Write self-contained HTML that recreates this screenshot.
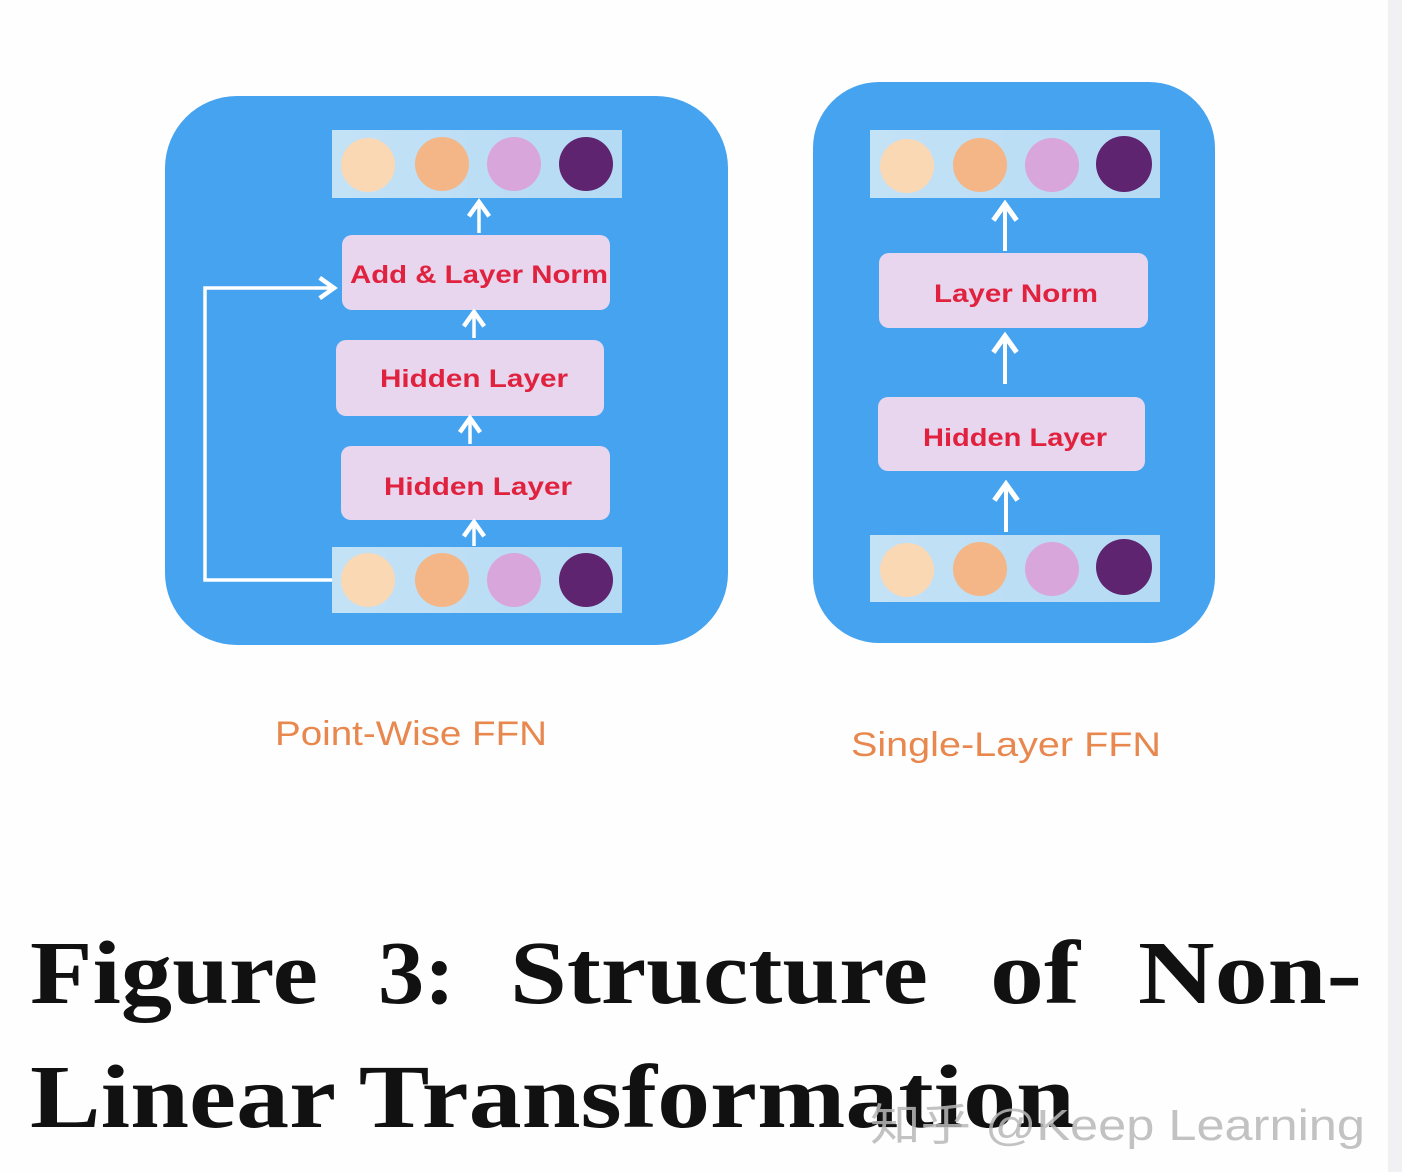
<!DOCTYPE html>
<html><head><meta charset="utf-8"><style>
html,body{margin:0;padding:0;background:#fff;}
svg{display:block}
</style></head><body>
<svg width="1402" height="1172" viewBox="0 0 1402 1172" xmlns="http://www.w3.org/2000/svg">
<rect x="0" y="0" width="1402" height="1172" fill="#fefefe"/>
<rect x="1388" y="0" width="14" height="1172" fill="#f1f1f3"/>
<defs>
<linearGradient id="vg" x1="0" x2="1" y1="0" y2="0"><stop offset="0" stop-color="#c4e2f6"/><stop offset="1" stop-color="#b4daf4"/></linearGradient>
<marker id="ah" viewBox="0 0 12 12" refX="9" refY="6" markerWidth="7" markerHeight="7" orient="auto"><path d="M2,1 L9,6 L2,11" fill="none" stroke="#fff" stroke-width="2.2"/></marker>
</defs>
<rect x="165" y="96" width="563" height="549" rx="72" fill="#45a3f0"/>
<rect x="332" y="130" width="290" height="68" fill="url(#vg)"/>
<circle cx="368" cy="165" r="27" fill="#fbd8b4"/><circle cx="442" cy="164" r="27" fill="#f4b686"/><circle cx="514" cy="164" r="27" fill="#d8a6da"/><circle cx="586" cy="164" r="27" fill="#5e2470"/>
<rect x="332" y="547" width="290" height="66" fill="url(#vg)"/>
<circle cx="368" cy="580" r="27" fill="#fbd8b4"/><circle cx="442" cy="580" r="27" fill="#f4b686"/><circle cx="514" cy="580" r="27" fill="#d8a6da"/><circle cx="586" cy="580" r="27" fill="#5e2470"/>
<rect x="342" y="235" width="268" height="75" rx="10" fill="#e8d5ee"/>
<rect x="336" y="340" width="268" height="76" rx="10" fill="#e8d5ee"/>
<rect x="341" y="446" width="269" height="74" rx="10" fill="#e8d5ee"/>
<g font-family="Liberation Sans, sans-serif" font-weight="bold" font-size="25" fill="#e0223f" text-anchor="middle">
<text x="479" y="283" textLength="258" lengthAdjust="spacingAndGlyphs">Add &amp; Layer Norm</text>
<text x="474" y="387" textLength="188" lengthAdjust="spacingAndGlyphs">Hidden Layer</text>
<text x="478" y="495" textLength="188" lengthAdjust="spacingAndGlyphs">Hidden Layer</text>
</g>
<g stroke="#fff" stroke-width="3.5" fill="none" marker-end="url(#ah)">
<line x1="479" y1="233" x2="479" y2="202"/>
<line x1="474" y1="338" x2="474" y2="312"/>
<line x1="470" y1="444" x2="470" y2="418"/>
<line x1="474" y1="546" x2="474" y2="522"/>
<polyline points="332,580 205,580 205,288 334,288"/>
</g>
<rect x="813" y="82" width="402" height="561" rx="66" fill="#45a3f0"/>
<rect x="870" y="130" width="290" height="68" fill="url(#vg)"/>
<circle cx="907" cy="166" r="27" fill="#fbd8b4"/><circle cx="980" cy="165" r="27" fill="#f4b686"/><circle cx="1052" cy="165" r="27" fill="#d8a6da"/><circle cx="1124" cy="164" r="28" fill="#5e2470"/>
<rect x="870" y="535" width="290" height="67" fill="url(#vg)"/>
<circle cx="907" cy="570" r="27" fill="#fbd8b4"/><circle cx="980" cy="569" r="27" fill="#f4b686"/><circle cx="1052" cy="569" r="27" fill="#d8a6da"/><circle cx="1124" cy="567" r="28" fill="#5e2470"/>
<rect x="879" y="253" width="269" height="75" rx="10" fill="#e8d5ee"/>
<rect x="878" y="397" width="267" height="74" rx="10" fill="#e8d5ee"/>
<g font-family="Liberation Sans, sans-serif" font-weight="bold" font-size="25" fill="#e0223f" text-anchor="middle">
<text x="1016" y="302" textLength="164" lengthAdjust="spacingAndGlyphs">Layer Norm</text>
<text x="1015" y="446" textLength="184" lengthAdjust="spacingAndGlyphs">Hidden Layer</text>
</g>
<g stroke="#fff" stroke-width="4" fill="none" marker-end="url(#ah)">
<line x1="1005" y1="251" x2="1005" y2="204"/>
<line x1="1005" y1="384" x2="1005" y2="336"/>
<line x1="1006" y1="532" x2="1006" y2="484"/>
</g>
<g font-family="Liberation Sans, sans-serif" font-size="34" fill="#e8884e" text-anchor="middle">
<text x="411" y="745" textLength="272" lengthAdjust="spacingAndGlyphs">Point-Wise FFN</text>
<text x="1006" y="756" textLength="310" lengthAdjust="spacingAndGlyphs">Single-Layer FFN</text>
</g>
<g font-family="Liberation Serif, serif" font-weight="bold" font-size="90" fill="#111">
<text x="30" y="1003" textLength="288" lengthAdjust="spacingAndGlyphs">Figure</text>
<text x="378" y="1003" textLength="77" lengthAdjust="spacingAndGlyphs">3:</text>
<text x="510" y="1003" textLength="418" lengthAdjust="spacingAndGlyphs">Structure</text>
<text x="990" y="1003" textLength="90" lengthAdjust="spacingAndGlyphs">of</text>
<text x="1138" y="1003" textLength="224" lengthAdjust="spacingAndGlyphs">Non-</text>
<text x="30" y="1127" textLength="1045" lengthAdjust="spacingAndGlyphs">Linear Transformation</text>
</g>
<text x="870" y="1140" textLength="495" lengthAdjust="spacingAndGlyphs" font-family="Liberation Sans, 'Noto Sans CJK SC', sans-serif" font-size="44" fill="#b8b8b8" opacity="0.85">知乎 @Keep Learning</text>
</svg>
</body></html>
